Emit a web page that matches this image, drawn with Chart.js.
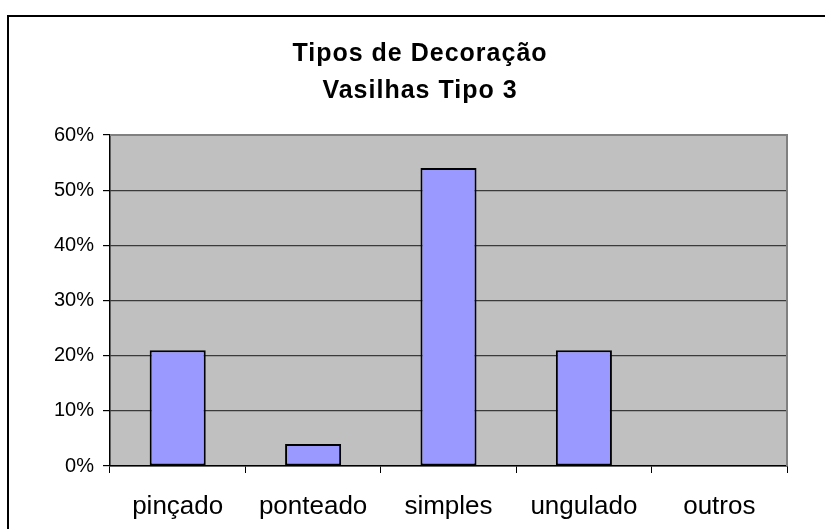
<!DOCTYPE html>
<html>
<head>
<meta charset="utf-8">
<script src="https://cdn.jsdelivr.net/npm/chart.js@4/dist/chart.umd.min.js"></script>
<style>
  html, body { margin: 0; padding: 0; background: #fff; }
  #wrap { width: 825px; height: 529px; }
</style>
</head>
<body>
<div id="wrap"><canvas id="grafico" width="825" height="529"></canvas></div>
<script>
// dados
const tituloLinhas = ['Tipos de Decoração', 'Vasilhas Tipo 3'];
const categorias = ['pinçado', 'ponteado', 'simples', 'ungulado', 'outros'];
const percentuais = [21, 4, 54, 21, 0];
const eixoY = { min: 0, max: 60, passo: 10 };

const FONTE = '"Liberation Sans", Arial, sans-serif';

// moldura, fundo cinza da área de plotagem e título
const molduraPlugin = {
  id: 'moldura',
  beforeDraw(chart) {
    const { ctx, chartArea: a } = chart;
    ctx.save();
    ctx.fillStyle = '#fff';
    ctx.fillRect(0, 0, chart.width, chart.height);
    ctx.strokeStyle = '#000';
    ctx.lineWidth = 2;
    ctx.strokeRect(8, 16, 900, 600);
    ctx.fillStyle = '#c0c0c0';
    ctx.fillRect(a.left, a.top, a.right - a.left, a.bottom - a.top);
    ctx.restore();
  },
  afterDraw(chart) {
    const { ctx, chartArea: a } = chart;
    ctx.save();
    ctx.strokeStyle = '#808080';
    ctx.lineWidth = 2;
    ctx.beginPath();
    ctx.moveTo(a.left, a.top);
    ctx.lineTo(a.right, a.top);
    ctx.lineTo(a.right, a.bottom);
    ctx.stroke();

    ctx.fillStyle = '#000';
    ctx.font = 'bold 25px ' + FONTE;
    ctx.textAlign = 'center';
    ctx.textBaseline = 'alphabetic';
    ctx.letterSpacing = '1px';
    ctx.fillText(tituloLinhas[0], 420, 61);
    ctx.fillText(tituloLinhas[1], 420, 98);
    ctx.restore();
  }
};

new Chart(document.getElementById('grafico').getContext('2d'), {
  type: 'bar',
  data: {
    labels: categorias,
    datasets: [{
      data: percentuais,
      backgroundColor: '#9999ff',
      borderColor: '#000',
      borderWidth: 2,
      borderSkipped: false,
      barPercentage: 0.414,
      categoryPercentage: 1
    }]
  },
  options: {
    responsive: false,
    animation: false,
    devicePixelRatio: 1,
    layout: { padding: { top: 135, left: 0, right: 38, bottom: 0 } },
    plugins: {
      legend: { display: false },
      title: { display: false },
      tooltip: { enabled: false }
    },
    scales: {
      x: {
        afterFit(s) { s.height = 63; },
        grid: { offset: true, drawOnChartArea: false, tickLength: 7, color: '#000', tickWidth: 1 },
        border: { color: '#000', width: 1.5 },
        ticks: { color: '#000', padding: 18, font: { family: FONTE, size: 26 } }
      },
      y: {
        min: eixoY.min,
        max: eixoY.max,
        afterFit(s) { s.width = 110; },
        grid: { color: '#3a3a3a', lineWidth: 1.2, tickLength: 7, tickColor: '#000' },
        border: { color: '#000', width: 1.5 },
        ticks: {
          stepSize: eixoY.passo,
          color: '#000',
          padding: 9,
          font: { family: FONTE, size: 20 },
          callback: v => v + '%'
        }
      }
    }
  },
  plugins: [molduraPlugin]
});
</script>
</body>
</html>
